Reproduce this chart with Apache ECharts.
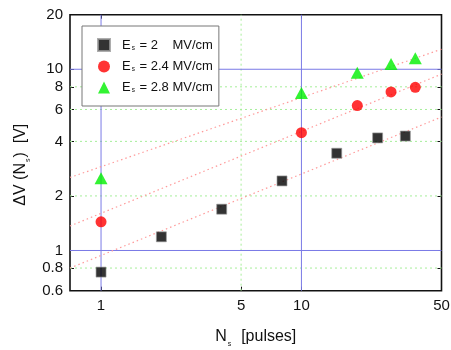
<!DOCTYPE html>
<html><head><meta charset="utf-8">
<script src="https://cdn.jsdelivr.net/npm/echarts@6/dist/echarts.min.js"></script>
<style>html,body{margin:0;padding:0;background:#fff}#c{width:451px;height:350px}</style>
</head><body><div id="c"></div>
<script>
// ---- data ----
const xBlack = [1, 2, 4, 8, 15, 24, 33];
const yBlack = [0.76, 1.19, 1.69, 2.42, 3.44, 4.18, 4.28];
const xRed = [1, 10, 19, 28, 37];
const yRed = [1.44, 4.47, 6.3, 7.5, 7.95];
const xGreen = [1, 10, 19, 28, 37];
const yGreen = [2.5, 7.4, 9.57, 10.7, 11.5];
const fitX = [0.7, 50];
const fitBlack = [0.80, 5.45];
const fitRed = [1.365, 9.4];
const fitGreen = [2.53, 12.9];
const seriesNames = ['E_s = 2    MV/cm', 'E_s = 2.4 MV/cm', 'E_s = 2.8 MV/cm'];
const xTicks = [1, 5, 10, 50];
const yTicks = [0.6, 0.8, 1, 2, 4, 6, 8, 10, 20];
const xRange = [0.7, 50];
const yRange = [0.6, 20];
const yGridGreen = [0.8, 2, 4, 6, 8];
const yGridBlue = [1, 10];
const xGridGreen = [5];
const xGridBlue = [1, 10];

const L = Math.log10;
const pts = (xs, ys) => xs.map((x, i) => [L(x), L(ys[i])]);
const fmt = v => String(parseFloat(Math.pow(10, v).toFixed(3)));
const FONT = 'Liberation Sans';

const green = () => ({color: '#a6ee9a', type: [2, 3], width: 1});
const blue = () => ({color: '#7a7ae6', type: 'solid', width: 1});
const gridSeries = (data, st) => ({type: 'line', data: data, showSymbol: false, silent: true, z: 1,
  lineStyle: st(), itemStyle: {color: st().color}, emphasis: {disabled: true}});
const hSeg = v => [[L(xRange[0]), L(v)], [L(xRange[1]), L(v)]];
const vSeg = v => [[L(v), L(yRange[0])], [L(v), L(yRange[1])]];
const gridList = []
  .concat(yGridGreen.map(v => gridSeries(hSeg(v), green)))
  .concat(xGridGreen.map(v => gridSeries(vSeg(v), green)))
  .concat(yGridBlue.map(v => gridSeries(hSeg(v), blue)))
  .concat(xGridBlue.map(v => gridSeries(vSeg(v), blue)));

const fitStyle = () => ({color: '#ff9a9a', type: [1.5, 3], width: 1.2});
const chart = echarts.init(document.getElementById('c'), null, {renderer: 'canvas'});
const legendRich = {
  e: {fontFamily: FONT, fontSize: 13, color: '#111', verticalAlign: 'middle', padding: [0, 0, 0, 7]},
  m: {fontFamily: FONT, fontSize: 13, color: '#111', verticalAlign: 'middle'},
  s: {fontFamily: FONT, fontSize: 6.5, color: '#111', verticalAlign: 'bottom', padding: [5, 1, 0, 1]}
};
const nameRich = {
  m: {fontFamily: FONT, fontSize: 16, color: '#111', lineHeight: 22, verticalAlign: 'middle'},
  s: {fontFamily: FONT, fontSize: 7, color: '#111', lineHeight: 22, verticalAlign: 'bottom', padding: [0, 1, 0, 1]}
};
const noLine = {show: false, onZero: false};
chart.setOption({
  animation: false,
  grid: {left: 70, right: 9.5, top: 14.7, bottom: 59.3, show: true, borderColor: '#111', borderWidth: 1.6,
         backgroundColor: 'transparent', containLabel: false, outerBoundsMode: 'none'},
  legend: {
    orient: 'vertical', left: 82, top: 26,
    padding: [12, 6, 12, 15], itemGap: 8, itemWidth: 12, itemHeight: 12,
    backgroundColor: '#fff', borderColor: '#777', borderWidth: 1,
    data: seriesNames,
    formatter: name => '{e|E}{s|s}{m|' + name.slice(3) + '}',
    textStyle: {rich: legendRich}
  },
  xAxis: [{
    type: 'value', min: L(xRange[0]), max: L(xRange[1]), position: 'bottom',
    axisLine: noLine, splitLine: {show: false},
    axisTick: {show: true, inside: true, length: 4, customValues: xTicks.slice(0, 3).map(L), lineStyle: {color: '#111'}},
    axisLabel: {customValues: xTicks.map(L), formatter: fmt, fontFamily: FONT, fontSize: 15, color: '#111', margin: 8, showMinLabel: true, showMaxLabel: true},
    name: '{m|N}{s|s}{m|  [pulses]}', nameLocation: 'middle', nameGap: 35,
    nameTextStyle: {rich: nameRich}
  }, {
    type: 'value', min: L(xRange[0]), max: L(xRange[1]), position: 'top',
    axisLine: noLine, splitLine: {show: false},
    axisTick: {show: true, inside: true, length: 4, customValues: [1, 10].map(L), lineStyle: {color: '#111'}},
    axisLabel: {show: false}
  }],
  yAxis: [{
    type: 'value', min: L(yRange[0]), max: L(yRange[1]), position: 'left',
    axisLine: noLine, splitLine: {show: false},
    axisTick: {show: true, inside: true, length: 4, customValues: yTicks.map(L), lineStyle: {color: '#111'}},
    axisLabel: {customValues: yTicks.map(L), formatter: fmt, fontFamily: FONT, fontSize: 15, color: '#111', margin: 7, showMinLabel: true, showMaxLabel: true},
    name: '{m|ΔV (N}{s|s}{m|)  [V]}', nameLocation: 'middle', nameGap: 32, nameRotate: 90,
    nameTextStyle: {padding: [0, 24, 0, 0], rich: nameRich}
  }, {
    type: 'value', min: L(yRange[0]), max: L(yRange[1]), position: 'right',
    axisLine: noLine, splitLine: {show: false},
    axisTick: {show: true, inside: true, length: 4, customValues: yTicks.map(L), lineStyle: {color: '#111'}},
    axisLabel: {show: false}
  }],
  series: gridList.concat([
    {type: 'line', name: 'fitB', data: pts(fitX, fitBlack), showSymbol: false, lineStyle: fitStyle(), z: 2, silent: true},
    {type: 'line', name: 'fitR', data: pts(fitX, fitRed), showSymbol: false, lineStyle: fitStyle(), z: 2, silent: true},
    {type: 'line', name: 'fitG', data: pts(fitX, fitGreen), showSymbol: false, lineStyle: fitStyle(), z: 2, silent: true},
    {type: 'scatter', name: seriesNames[0], data: pts(xBlack, yBlack), symbol: 'rect', symbolSize: 10,
     itemStyle: {color: '#000', borderColor: '#999', borderWidth: 0.8}, z: 5},
    {type: 'scatter', name: seriesNames[1], data: pts(xRed, yRed), symbol: 'circle', symbolSize: 11,
     itemStyle: {color: '#ff0000'}, z: 5},
    {type: 'scatter', name: seriesNames[2], data: pts(xGreen, yGreen), symbol: 'triangle', symbolSize: [13, 12],
     itemStyle: {color: '#00f000'}, z: 5}
  ])
});
</script></body></html>
